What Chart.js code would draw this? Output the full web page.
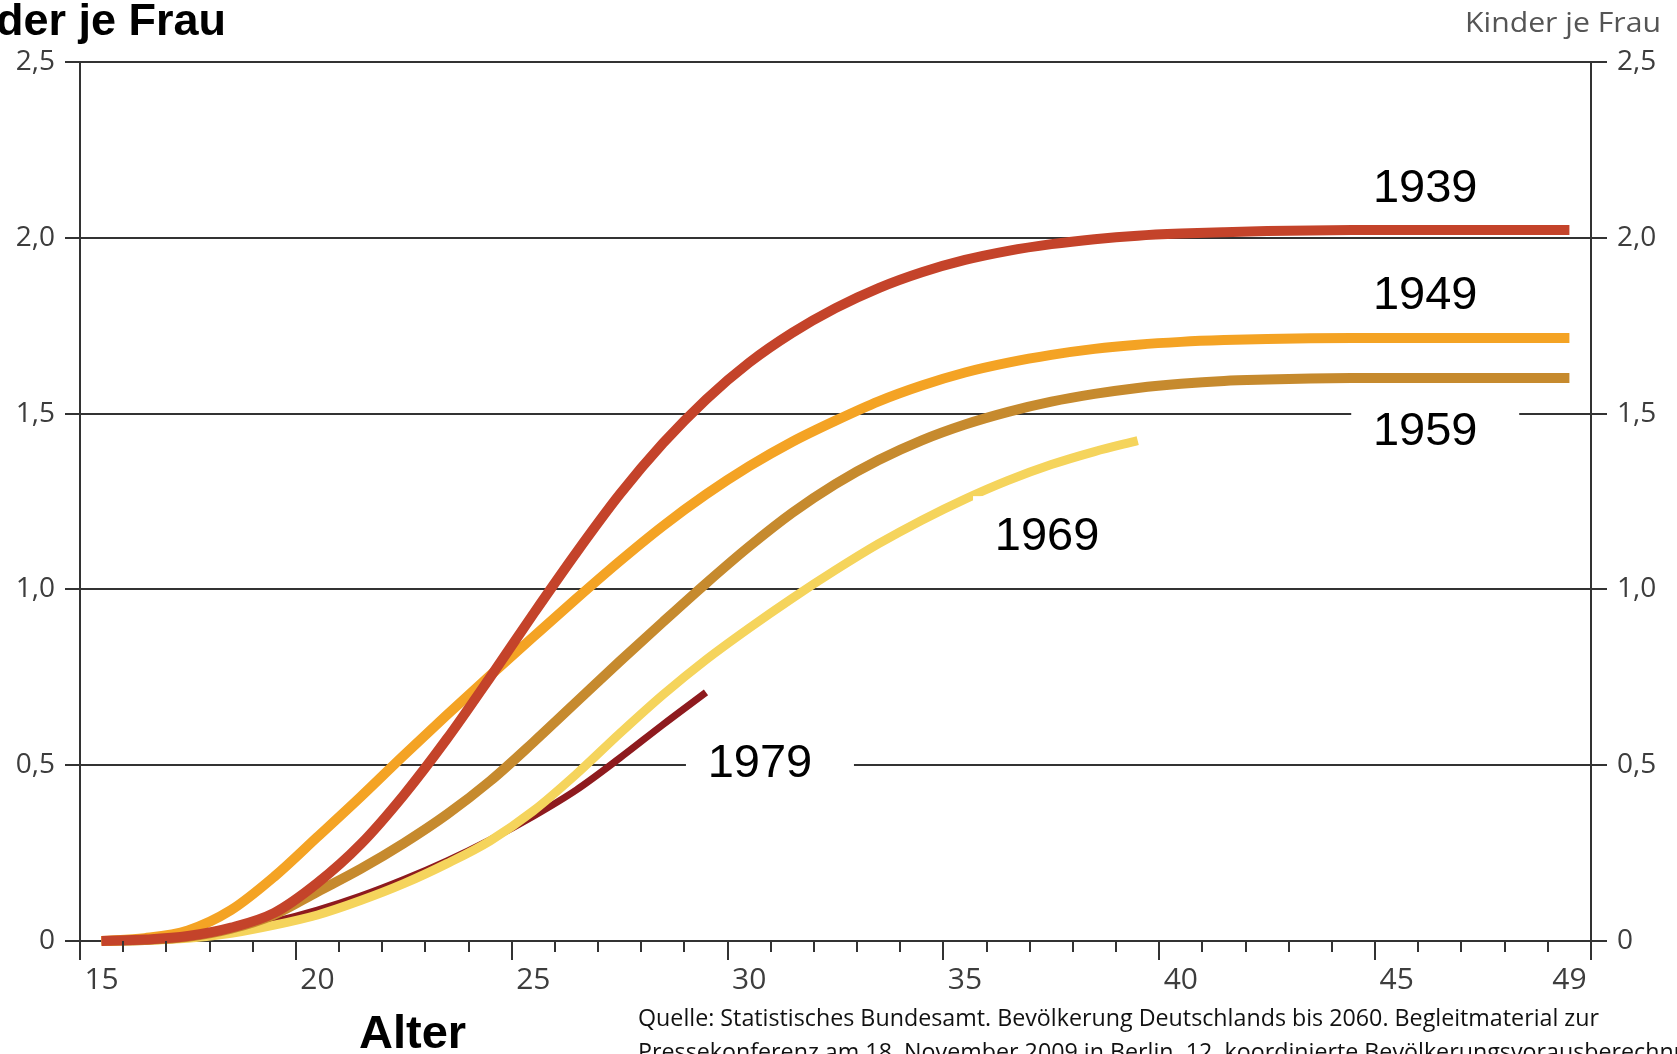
<!DOCTYPE html>
<html lang="de">
<head>
<meta charset="UTF-8">
<title>Kinder je Frau nach Alter</title>
<script src="https://cdn.jsdelivr.net/npm/chart.js"></script>
<style>
  body { margin: 0; background: #fff; }
  .chart-box { position: relative; width: 1677px; height: 1054px; }
</style>
</head>
<body>
<div class="chart-box"><canvas id="fertChart"></canvas></div>
<script>
  // Alter der Frauen (x) und kumulierte Kinderzahl je Frau nach Jahrgang
  const ages = [15, 16, 17, 18, 19, 20, 21, 22, 23, 24, 25, 26, 27, 28, 29, 30, 31, 32,
                33, 34, 35, 36, 37, 38, 39, 40, 41, 42, 43, 44, 45, 46, 47, 48, 49];

  const kinder1939 = [0, 0.004, 0.014, 0.038, 0.08, 0.165, 0.275, 0.415, 0.575, 0.75, 0.93, 1.105,
                      1.27, 1.415, 1.54, 1.645, 1.73, 1.8, 1.857, 1.902, 1.937, 1.963, 1.982, 1.996,
                      2.006, 2.012, 2.016, 2.019, 2.021, 2.022, 2.022, 2.022, 2.022, 2.022, 2.022];
  const kinder1949 = [0, 0.008, 0.03, 0.088, 0.183, 0.296, 0.41, 0.528, 0.643, 0.755, 0.865, 0.974,
                      1.08, 1.18, 1.27, 1.35, 1.42, 1.48, 1.535, 1.58, 1.617, 1.645, 1.667, 1.684,
                      1.696, 1.704, 1.709, 1.712, 1.714, 1.715, 1.715, 1.715, 1.715, 1.715, 1.715];
  const kinder1959 = [0, 0.003, 0.012, 0.035, 0.075, 0.14, 0.205, 0.278, 0.36, 0.455, 0.565, 0.68,
                      0.795, 0.907, 1.017, 1.122, 1.218, 1.3, 1.368, 1.424, 1.469, 1.505, 1.534, 1.556,
                      1.573, 1.585, 1.593, 1.597, 1.6, 1.601, 1.601, 1.601, 1.601, 1.601, 1.601];
  const kinder1969 = [0, 0.002, 0.008, 0.022, 0.045, 0.074, 0.115, 0.163, 0.22, 0.285, 0.37, 0.475,
                      0.59, 0.7, 0.8, 0.89, 0.975, 1.055, 1.13, 1.197, 1.257, 1.31, 1.355, 1.392,
                      1.423];
  const kinder1979 = [0, 0.002, 0.01, 0.028, 0.055, 0.088, 0.128, 0.175, 0.228, 0.288, 0.355, 0.43,
                      0.52, 0.615, 0.707];

  const jahrgaenge = ['1939', '1949', '1959', '1969', '1979'];
  const linienFarben = ['#c4432a', '#f4a324', '#c68a2e', '#f5d45c', '#8e1a1e'];
  const linienBreiten = [10, 10, 10, 9, 7];
  const xTickLabels = [15, 20, 25, 30, 35, 40, 45, 49];
  const yTickValues = [0, 0.5, 1, 1.5, 2, 2.5];

  // Beschriftungen der Kurven (Lage in Alter / Kinder je Frau)
  const kurvenLabels = [
    { text: '1939', x: 45.66, y: 2.15 },
    { text: '1949', x: 45.66, y: 1.846 },
    { text: '1959', x: 45.66, y: 1.459 },
    { text: '1969', x: 36.9, y: 1.16 },
    { text: '1979', x: 30.25, y: 0.515 }
  ];

  const alleReihen = [kinder1939, kinder1949, kinder1959, kinder1969, kinder1979];
  const tickFont = { family: "'Open Sans', 'DejaVu Sans', sans-serif", size: 28 };

  function fmtKomma(v) {
    return v === 0 ? '0' : v.toFixed(1).replace('.', ',');
  }

  // kleine Striche unter der x-Achse (Grenzen der Altersjahre)
  const altersStriche = {
    id: 'altersStriche',
    afterDraw(chart) {
      const { ctx, chartArea, scales: { x } } = chart;
      ctx.save();
      ctx.strokeStyle = '#333';
      ctx.lineWidth = 2;
      for (let v = 14.5; v <= 49.5; v += 1) {
        const px = Math.round(x.getPixelForValue(v));
        const lang = ((v - 14.5) % 5 === 0) || v === 49.5;
        ctx.beginPath();
        ctx.moveTo(px, chartArea.bottom);
        ctx.lineTo(px, chartArea.bottom + (lang ? 19 : 11));
        ctx.stroke();
      }
      ctx.restore();
    }
  };

  const jahrgangLabels = {
    id: 'jahrgangLabels',
    afterDatasetsDraw(chart) {
      const { ctx, scales: { x, y } } = chart;
      ctx.save();
      ctx.font = "47px 'Liberation Sans', Arial, sans-serif";
      ctx.textAlign = 'center';
      ctx.textBaseline = 'alphabetic';
      kurvenLabels.forEach(l => {
        const cx = x.getPixelForValue(l.x);
        const cy = y.getPixelForValue(l.y);
        ctx.fillStyle = '#fff';
        ctx.fillRect(cx - 74, cy - 37, 168, 74);
        ctx.fillStyle = '#000';
        ctx.fillText(l.text, cx, cy + 17);
      });
      ctx.restore();
    }
  };

  function fitText(ctx, text, x, y, width) {
    const w = ctx.measureText(text).width;
    ctx.save();
    ctx.translate(x, y);
    ctx.scale(width / w, 1);
    ctx.fillText(text, 0, 0);
    ctx.restore();
    return width / w;
  }

  const texte = {
    id: 'texte',
    afterDraw(chart) {
      const ctx = chart.ctx;
      ctx.save();
      ctx.textBaseline = 'alphabetic';
      ctx.fillStyle = '#000';
      ctx.font = "bold 45px 'Liberation Sans', Arial, sans-serif";
      ctx.textAlign = 'right';
      ctx.fillText('Kinder je Frau', 226, 35);
      ctx.textAlign = 'left';
      ctx.font = "bold 47px 'Liberation Sans', Arial, sans-serif";
      ctx.fillText('Alter', 359, 1048);

      ctx.fillStyle = '#555';
      ctx.font = "28px 'Open Sans', sans-serif";
      fitText(ctx, 'Kinder je Frau', 1465, 32, 196);

      ctx.fillStyle = '#111';
      ctx.font = "24px 'Open Sans', sans-serif";
      const zeile1 = 'Quelle: Statistisches Bundesamt. Bevölkerung Deutschlands bis 2060. Begleitmaterial zur';
      const zeile2 = 'Pressekonferenz am 18. November 2009 in Berlin. 12. koordinierte Bevölkerungsvorausberechnung';
      const s = fitText(ctx, zeile1, 638, 1026, 961);
      const w2 = ctx.measureText(zeile2).width * s;
      fitText(ctx, zeile2, 638, 1060, w2);
      ctx.restore();
    }
  };

  const datasets = alleReihen.map((werte, i) => ({
    label: jahrgaenge[i],
    data: werte.map((v, k) => ({ x: ages[k], y: v })),
    borderColor: linienFarben[i],
    borderWidth: linienBreiten[i],
    pointRadius: 0,
    cubicInterpolationMode: 'monotone',
    clip: false,
    fill: false
  }));

  new Chart(document.getElementById('fertChart'), {
    type: 'line',
    data: { datasets },
    options: {
      responsive: true,
      maintainAspectRatio: false,
      animation: false,
      layout: { padding: { top: 62, left: 0, right: 0, bottom: 0 } },
      plugins: {
        legend: { display: false },
        tooltip: { enabled: false }
      },
      scales: {
        x: {
          type: 'linear',
          min: 14.5,
          max: 49.5,
          afterBuildTicks: axis => { axis.ticks = xTickLabels.map(v => ({ value: v })); },
          afterFit: scale => { scale.height = 113; },
          grid: { display: false, drawTicks: false },
          border: { display: false },
          ticks: { font: { ...tickFont, size: 30 }, color: '#3d3d3d', padding: 21, maxRotation: 0, autoSkip: false }
        },
        y: {
          position: 'left',
          min: 0,
          max: 2.5,
          afterBuildTicks: axis => { axis.ticks = yTickValues.map(v => ({ value: v })); },
          afterFit: scale => { scale.width = 80; },
          grid: { color: '#333', lineWidth: 2, tickLength: 15 },
          border: { display: true, color: '#333', width: 2 },
          ticks: { font: tickFont, color: '#3d3d3d', padding: 10, callback: v => fmtKomma(v) }
        },
        y2: {
          position: 'right',
          min: 0,
          max: 2.5,
          afterBuildTicks: axis => { axis.ticks = yTickValues.map(v => ({ value: v })); },
          afterFit: scale => { scale.width = 86; },
          grid: { drawOnChartArea: false, color: '#333', lineWidth: 2, tickLength: 16 },
          border: { display: true, color: '#333', width: 2 },
          ticks: { font: tickFont, color: '#3d3d3d', padding: 10, callback: v => fmtKomma(v) }
        }
      }
    },
    plugins: [altersStriche, jahrgangLabels, texte]
  });
</script>
</body>
</html>
